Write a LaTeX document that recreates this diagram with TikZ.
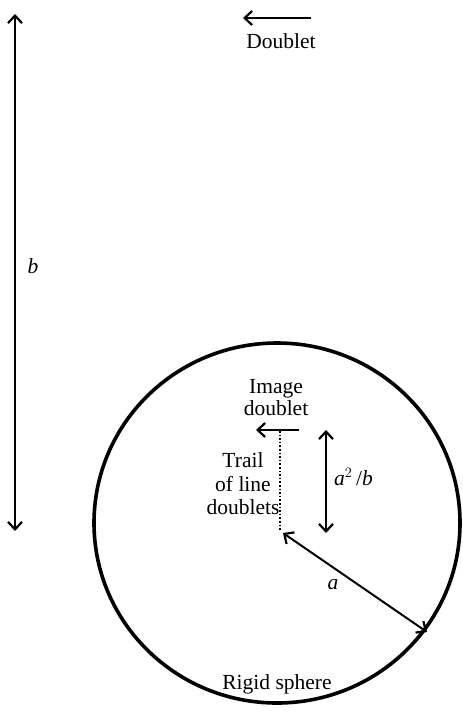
\documentclass[tikz,border=0pt]{standalone}
\usepackage{fontspec}
\setmainfont{Liberation Serif}
\usetikzlibrary{arrows.meta}
\begin{document}
\begin{tikzpicture}[x=1pt,y=-1pt,
  >={Straight Barb[length=7.5pt,width=14pt,line width=2.2pt]},
  lbl/.style={font=\fontsize{21.5}{22}\selectfont, inner sep=0pt, align=center},
  arr/.style={line width=2pt, ->},
  darr/.style={line width=2pt, <->}]
\useasboundingbox (0,0) rectangle (463,712);
% sphere
\coordinate (c) at (277,523);
\draw[line width=3.6pt] (c) ellipse[x radius=183, y radius=180];
% distance b
\coordinate (bt) at (15,14);
\coordinate (bb) at (15,531);
\draw[darr] (bt) -- (bb);
\node[lbl] (blab) at (33,266) {\textit{b}};
% outer doublet
\coordinate (dr) at (311,18);
\coordinate (dl) at (243,18);
\draw[arr, line width=2.8pt] (dr) -- (dl);
\node[lbl] (dlab) at (281,41) {Doublet};
% image doublet
\coordinate (ir) at (299,430);
\coordinate (il) at (256,430);
\draw[arr, line width=2.8pt] (ir) -- (il);
\node[lbl] (ilab) at (276,398) {Image\\doublet};
% trail
\coordinate (tt) at (280,431);
\coordinate (tb) at (280,531);
\draw[line width=1.6pt, dotted] (tt) -- (tb);
\node[lbl] (tlab) at (243,484) {Trail\\[1.5pt]of line\\[1.5pt]doublets};
% a^2/b
\coordinate (qt) at (326,430);
\coordinate (qb) at (326,533);
\draw[darr] (qt) -- (qb);
\node[lbl, anchor=west] (qlab) at (334,477) {\textit{a}$^2$\,/\textit{b}};
% radius a
\coordinate (ra) at (283,533);
\coordinate (rb) at (427,632);
\draw[darr] (ra) -- (rb);
\node[lbl] (alab) at (333,585) {\textit{a}};
% label
\node[lbl] (slab) at (277,684) {Rigid sphere};
\end{tikzpicture}
\end{document}
